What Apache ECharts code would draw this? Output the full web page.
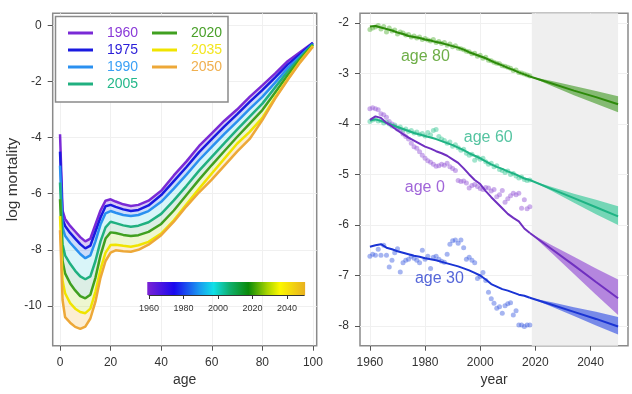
<!DOCTYPE html>
<html><head><meta charset="utf-8">
<script src="https://cdn.jsdelivr.net/npm/echarts@6/dist/echarts.min.js"></script>
<style>html,body{margin:0;padding:0;background:#fff}#c{width:632px;height:394px}</style>
</head><body><div id="c"></div>
<script>
// ---------- LEFT PANEL DATA (log mortality by age) ----------
const ages = [0,1,2,4,6,8,10,12,14,16,18,20,22,25,28,31,35,40,45,50,55,60,65,70,75,80,85,90,95,100];
const curveNames = ['1960','1975','1990','2005','2020','2035','2050'];
const m1960 = [-3.88,-6.6,-6.9,-7.15,-7.35,-7.55,-7.7,-7.6,-7.1,-6.6,-6.25,-6.2,-6.28,-6.38,-6.44,-6.4,-6.25,-5.9,-5.35,-4.85,-4.3,-3.85,-3.4,-3.0,-2.55,-2.14,-1.72,-1.28,-0.95,-0.62];
const m1975 = [-4.5,-6.9,-7.15,-7.4,-7.6,-7.8,-7.95,-7.85,-7.35,-6.85,-6.45,-6.4,-6.47,-6.56,-6.62,-6.58,-6.42,-6.05,-5.55,-5.05,-4.52,-4.06,-3.6,-3.17,-2.73,-2.31,-1.86,-1.4,-1.02,-0.63];
const m1990 = [-5.0,-7.2,-7.5,-7.75,-7.95,-8.15,-8.3,-8.2,-7.7,-7.1,-6.7,-6.62,-6.68,-6.76,-6.8,-6.76,-6.62,-6.29,-5.82,-5.32,-4.8,-4.33,-3.87,-3.43,-2.98,-2.55,-2.05,-1.53,-1.1,-0.66];
const m2005 = [-5.6,-7.8,-8.2,-8.5,-8.75,-8.95,-9.05,-8.95,-8.4,-7.7,-7.2,-7.0,-7.05,-7.13,-7.18,-7.14,-7.02,-6.72,-6.24,-5.72,-5.18,-4.69,-4.2,-3.72,-3.25,-2.79,-2.22,-1.65,-1.15,-0.68];
const m2020 = [-6.2,-8.4,-8.84,-9.2,-9.45,-9.65,-9.73,-9.6,-9.0,-8.2,-7.6,-7.38,-7.4,-7.47,-7.51,-7.48,-7.36,-7.08,-6.6,-6.05,-5.5,-4.98,-4.48,-3.98,-3.5,-3.02,-2.4,-1.78,-1.2,-0.7];
const m2035 = [-6.8,-9.1,-9.55,-9.9,-10.1,-10.22,-10.26,-10.1,-9.5,-8.7,-8.1,-7.83,-7.82,-7.86,-7.89,-7.84,-7.72,-7.42,-6.95,-6.38,-5.82,-5.28,-4.75,-4.22,-3.8,-3.3,-2.58,-1.92,-1.28,-0.73];
const m2050 = [-7.3,-9.79,-10.4,-10.6,-10.75,-10.82,-10.74,-10.45,-9.85,-9.0,-8.4,-8.1,-8.02,-8.05,-8.07,-8.0,-7.82,-7.48,-7.0,-6.45,-5.95,-5.5,-5.0,-4.5,-4.05,-3.38,-2.62,-1.95,-1.32,-0.76];
const ageTicks = [0,20,40,60,80,100];
const logTicks = [-10,-8,-6,-4,-2,0];
// colour bar
const cbTicks = [1960,1980,2000,2020,2040];
const cbStart = 1959, cbEnd = 2050.5;

// ---------- RIGHT PANEL DATA (log mortality by year) ----------
const obsYears = [1960,1961,1962,1963,1964,1965,1966,1967,1968,1969,1970,1971,1972,1973,1974,1975,1976,1977,1978,1979,1980,1981,1982,1983,1984,1985,1986,1987,1988,1989,1990,1991,1992,1993,1994,1995,1996,1997,1998,1999,2000,2001,2002,2003,2004,2005,2006,2007,2008,2009,2010,2011,2012,2013,2014,2015,2016,2017,2018];
const obs80 = [-2.13,-2.10,-2.08,-2.05,-2.12,-2.07,-2.18,-2.10,-2.16,-2.14,-2.22,-2.18,-2.20,-2.24,-2.23,-2.28,-2.26,-2.30,-2.28,-2.33,-2.31,-2.34,-2.36,-2.33,-2.39,-2.37,-2.41,-2.39,-2.44,-2.42,-2.47,-2.45,-2.50,-2.51,-2.53,-2.56,-2.57,-2.61,-2.60,-2.66,-2.64,-2.70,-2.68,-2.74,-2.75,-2.78,-2.80,-2.81,-2.85,-2.86,-2.88,-2.90,-2.94,-2.93,-2.98,-2.99,-3.01,-3.03,-3.05];
const obs60 = [-3.95,-3.92,-3.90,-3.94,-3.93,-3.98,-3.96,-4.00,-4.04,-4.02,-4.08,-4.06,-4.12,-4.10,-4.15,-4.13,-4.18,-4.16,-4.21,-4.19,-4.24,-4.17,-4.22,-4.13,-4.11,-4.25,-4.30,-4.33,-4.38,-4.36,-4.44,-4.41,-4.47,-4.52,-4.50,-4.58,-4.62,-4.60,-4.72,-4.66,-4.70,-4.68,-4.75,-4.80,-4.78,-4.85,-4.83,-4.90,-4.92,-4.96,-4.93,-5.00,-4.98,-5.03,-5.07,-5.05,-5.10,-5.12,-5.11];
const obs0 = [-3.70,-3.68,-3.70,-3.72,-3.80,-3.82,-3.87,-3.95,-4.00,-4.05,-4.10,-4.12,-4.20,-4.25,-4.30,-4.38,-4.45,-4.48,-4.55,-4.62,-4.68,-4.73,-4.76,-4.80,-4.84,-4.83,-4.80,-4.82,-4.78,-4.85,-4.88,-4.92,-5.12,-5.14,-5.13,-5.17,-5.27,-5.22,-5.20,-5.24,-5.28,-5.30,-5.26,-5.27,-5.33,-5.30,-5.44,-5.40,-5.32,-5.55,-5.48,-5.42,-5.37,-5.40,-5.37,-5.67,-5.50,-5.68,-5.64];
const obs30 = [-6.62,-6.58,-6.60,-6.48,-6.60,-6.40,-6.60,-6.83,-6.70,-6.55,-6.47,-6.93,-6.75,-6.70,-6.68,-6.62,-6.66,-6.70,-6.75,-6.50,-6.68,-6.62,-6.86,-6.64,-6.62,-6.68,-6.72,-6.74,-6.58,-6.38,-6.31,-6.30,-6.36,-6.30,-6.45,-6.68,-6.64,-6.70,-6.75,-7.06,-7.02,-6.94,-7.10,-7.33,-7.46,-7.55,-7.65,-7.62,-7.75,-7.60,-7.56,-7.54,-7.78,-7.70,-7.98,-7.98,-8.01,-7.98,-7.98];
const fitYears = [1960,1962,1964,1966,1968,1970,1972,1974,1976,1978,1980,1982,1984,1986,1988,1990,1992,1994,1996,1998,2000,2002,2004,2006,2008,2010,2012,2014,2016,2018];
const fit80 = [-2.07,-2.06,-2.09,-2.12,-2.15,-2.19,-2.22,-2.26,-2.28,-2.30,-2.33,-2.35,-2.38,-2.40,-2.43,-2.46,-2.49,-2.53,-2.58,-2.62,-2.66,-2.70,-2.75,-2.80,-2.84,-2.89,-2.93,-2.98,-3.02,-3.06];
const fit60 = [-3.93,-3.91,-3.94,-3.98,-4.02,-4.06,-4.10,-4.14,-4.18,-4.21,-4.24,-4.27,-4.30,-4.34,-4.38,-4.42,-4.47,-4.52,-4.58,-4.63,-4.68,-4.74,-4.80,-4.85,-4.89,-4.94,-4.98,-5.03,-5.08,-5.11];
const fit0 = [-3.92,-3.85,-3.88,-3.98,-4.05,-4.13,-4.20,-4.27,-4.33,-4.39,-4.45,-4.49,-4.54,-4.58,-4.63,-4.70,-4.77,-4.88,-5.00,-5.11,-5.19,-5.33,-5.45,-5.56,-5.67,-5.78,-5.86,-5.93,-6.07,-6.16];
const fit30 = [-6.43,-6.40,-6.38,-6.45,-6.48,-6.52,-6.55,-6.58,-6.61,-6.63,-6.66,-6.68,-6.70,-6.73,-6.76,-6.79,-6.82,-6.86,-6.90,-6.95,-7.00,-7.08,-7.17,-7.22,-7.27,-7.30,-7.34,-7.38,-7.40,-7.44];
const fcYears = [2018,2026,2034,2042,2050];
const fc80 = [-3.06,-3.20,-3.34,-3.47,-3.61], fc80Hi = [-3.06,-3.15,-3.25,-3.35,-3.45], fc80Lo = [-3.06,-3.25,-3.43,-3.60,-3.77];
const fc60 = [-5.11,-5.29,-5.47,-5.65,-5.83], fc60Hi = [-5.11,-5.25,-5.38,-5.50,-5.63], fc60Lo = [-5.11,-5.33,-5.56,-5.79,-6.00];
const fc0 = [-6.16,-6.48,-6.80,-7.13,-7.45], fc0Hi = [-6.16,-6.40,-6.63,-6.86,-7.08], fc0Lo = [-6.16,-6.56,-6.97,-7.38,-7.78];
const fc30 = [-7.44,-7.58,-7.72,-7.86,-8.01], fc30Hi = [-7.44,-7.53,-7.63,-7.72,-7.82], fc30Lo = [-7.44,-7.62,-7.80,-7.99,-8.17];
const forecastStart = 2018.7, forecastEnd = 2050;
const yearTicks = [1960,1980,2000,2020,2040];
const yTicksR = [-8,-7,-6,-5,-4,-3,-2];
const ageLabels = ['age 80','age 60','age 0','age 30'];
const ageLabelPos = [[1980.1,-2.67],[2002.9,-4.27],[1979.9,-5.26],[1985.2,-7.07]];

// ---------- STYLE ----------
const FONT = 'Liberation Sans, Arial, sans-serif';
const curves = [m1960,m1975,m1990,m2005,m2020,m2035,m2050];
const curveColors = ['#7a2ad6','#1a1ae0','#2a90f0','#20b080','#40a020','#f0e400','#eda838'];
const legendTextColors = ['#8a3ad8','#2a1ed8','#3aa0f5','#24b88a','#4aa02a','#f3e620','#f0b050'];
const bandColors = ['rgba(150,110,225,0.35)','rgba(90,140,240,0.30)','rgba(120,220,235,0.28)','rgba(140,200,170,0.30)','rgba(200,230,100,0.30)','rgba(245,205,130,0.35)'];
const cbStops = [[0,'#7b22d4'],[0.17,'#1a08ee'],[0.33,'#1a9af0'],[0.42,'#10e0e8'],[0.52,'#10b070'],[0.64,'#0a8a0a'],[0.76,'#a8d400'],[0.84,'#fcf800'],[1,'#e8b020']];
const groups = [
  {obs:obs80, fit:fit80, fc:fc80, hi:fc80Hi, lo:fc80Lo, line:'#2d8a0a', pt:'rgba(90,180,60,0.6)', band:'rgba(60,150,30,0.6)', lab:'#4a9a1a'},
  {obs:obs60, fit:fit60, fc:fc60, hi:fc60Hi, lo:fc60Lo, line:'#1fb384', pt:'rgba(60,200,150,0.6)', band:'rgba(50,200,150,0.65)', lab:'#2ab58a'},
  {obs:obs0, fit:fit0, fc:fc0, hi:fc0Hi, lo:fc0Lo, line:'#7030c0', pt:'rgba(150,90,215,0.6)', band:'rgba(155,90,215,0.7)', lab:'#8a40d0'},
  {obs:obs30, fit:fit30, fc:fc30, hi:fc30Hi, lo:fc30Lo, line:'#1a34d4', pt:'rgba(70,100,225,0.6)', band:'rgba(70,95,230,0.7)', lab:'#2a40d0'}
];

const pairs = (xs, ys) => xs.map((x,i)=>[x, ys[i]]);
// filled band between two curves, drawn as a polygon through the axes' scales
const bandSeries = (axisIdx, xs, upper, lower, color, z) => ({
  type:'custom', xAxisIndex:axisIdx, yAxisIndex:axisIdx, silent:true, z, clip:true,
  data:[[xs[0], upper[0]]],
  renderItem:(params, api) => {
    const top = xs.map((x,i)=>api.coord([x, upper[i]]));
    const bot = xs.map((x,i)=>api.coord([x, lower[i]])).reverse();
    return {type:'polygon', shape:{points:top.concat(bot)}, style:{fill:color}};
  }
});
const series = [];

// left: bands between consecutive curves
for (let k = 0; k < 6; k++) series.push(bandSeries(0, ages, curves[k], curves[k+1], bandColors[k], 2));
// left: main curves
curves.forEach((c, i) => {
  series.push({name:curveNames[i], type:'line', xAxisIndex:0, yAxisIndex:0, data:pairs(ages, c), symbol:'none',
    color:curveColors[i], lineStyle:{width:2.5, color:curveColors[i]}, z:5});
});
// colour bar
series.push({type:'custom', xAxisIndex:2, yAxisIndex:2, data:[[cbStart,0]], silent:true, z:6,
  renderItem:(params, api) => {
    const p0 = api.coord([cbStart,1]), p1 = api.coord([cbEnd,0]);
    return {type:'rect', shape:{x:p0[0], y:p0[1], width:p1[0]-p0[0], height:p1[1]-p0[1]},
      style:{fill:new echarts.graphic.LinearGradient(0,0,1,0, cbStops.map(s=>({offset:s[0], color:s[1]})))}};
  }});

// right: forecast region
series.push({type:'line', xAxisIndex:1, yAxisIndex:1, data:[], z:1, silent:true,
  markArea:{silent:true, itemStyle:{color:'#efefef'}, data:[[{xAxis:forecastStart},{xAxis:forecastEnd}]]}});
groups.forEach((g) => {
  series.push(bandSeries(1, fcYears, g.hi, g.lo, g.band, 2));
  series.push({type:'scatter', xAxisIndex:1, yAxisIndex:1, data:pairs(obsYears, g.obs), symbolSize:5,
    itemStyle:{color:g.pt}, z:3});
  series.push({type:'line', xAxisIndex:1, yAxisIndex:1, data:pairs(fitYears, g.fit), symbol:'none',
    lineStyle:{width:2, color:g.line}, z:4});
  series.push({type:'line', xAxisIndex:1, yAxisIndex:1, data:pairs(fcYears, g.fc), symbol:'none',
    lineStyle:{width:2, color:g.line}, z:4});
});
series.push({type:'scatter', xAxisIndex:1, yAxisIndex:1, symbolSize:0, silent:true, z:6,
  data: ageLabels.map((t,i)=>({name:t, value:ageLabelPos[i], label:{color:groups[i].lab}})),
  label:{show:true, position:'inside', formatter:'{b}', fontSize:16, fontFamily:FONT}});

const plain = v => String(v);
const axisCommon = (ticks) => ({
  axisLine:{show:false, onZero:false},
  axisTick:{show:true, length:5, lineStyle:{color:'#555'}, customValues:ticks},
  axisLabel:{color:'#333', fontSize:12, fontFamily:FONT, margin:11, customValues:ticks, formatter:plain},
  splitLine:{show:true, lineStyle:{color:'#f0f0f0'}, customValues:ticks}
});
const nameStyle = {color:'#333', fontSize:14, fontFamily:FONT};

const option = {
  animation:false,
  backgroundColor:'#fff',
  grid:[
    {left:52.7, top:13.3, width:264, height:332.4, show:true, borderColor:'#8a8a8a', borderWidth:1.5, backgroundColor:'transparent'},
    {left:360, top:13.3, width:268, height:332.4, show:true, borderColor:'#8a8a8a', borderWidth:1.5, backgroundColor:'transparent'},
    {left:149, top:282, width:155.25, height:13}
  ],
  xAxis:[
    Object.assign({type:'value', gridIndex:0, min:-2.9, max:101.5, name:'age', nameLocation:'middle', nameGap:26, nameTextStyle:nameStyle}, axisCommon(ageTicks)),
    Object.assign({type:'value', gridIndex:1, min:1956.4, max:2053.6, name:'year', nameLocation:'middle', nameGap:26, nameTextStyle:nameStyle}, axisCommon(yearTicks)),
    {type:'value', gridIndex:2, min:1960, max:2050, axisLine:{show:true, onZero:false, lineStyle:{color:'#333'}},
      axisTick:{show:true, length:4, lineStyle:{color:'#333'}, customValues:cbTicks},
      axisLabel:{color:'#333', fontSize:9, fontFamily:FONT, margin:9, customValues:cbTicks, formatter:plain}, splitLine:{show:false}}
  ],
  yAxis:[
    Object.assign({type:'value', gridIndex:0, min:-11.42, max:0.43, name:'log mortality', nameLocation:'middle', nameGap:29, nameRotate:90,
      nameTextStyle:{color:'#333', fontSize:15.5, fontFamily:FONT}}, axisCommon(logTicks)),
    Object.assign({type:'value', gridIndex:1, min:-8.39, max:-1.81}, axisCommon(yTicksR)),
    {type:'value', gridIndex:2, min:0, max:1, show:false}
  ],
  legend:[
    {left:68, top:26, orient:'vertical', itemGap:3, itemWidth:25, itemHeight:3, icon:'rect', padding:0, z:8, selectedMode:false,
      textStyle:{fontSize:14, lineHeight:14, fontFamily:FONT, padding:[0,0,0,9]},
      data:curveNames.slice(0,4).map((n,i)=>({name:n, textStyle:{color:legendTextColors[i]}}))},
    {left:152, top:26, orient:'vertical', itemGap:3, itemWidth:25, itemHeight:3, icon:'rect', padding:0, z:8, selectedMode:false,
      textStyle:{fontSize:14, lineHeight:14, fontFamily:FONT, padding:[0,0,0,9]},
      data:curveNames.slice(4).map((n,i)=>({name:n, textStyle:{color:legendTextColors[i+4]}}))}
  ],
  graphic:[{type:'rect', z:7, shape:{x:55.5, y:16.5, width:172.5, height:85.5}, style:{fill:'#fff', stroke:'#8a8a8a', lineWidth:1.5}}],
  series
};
const chart = echarts.init(document.getElementById('c'), null, {renderer:'canvas'});
chart.setOption(option);
</script></body></html>
